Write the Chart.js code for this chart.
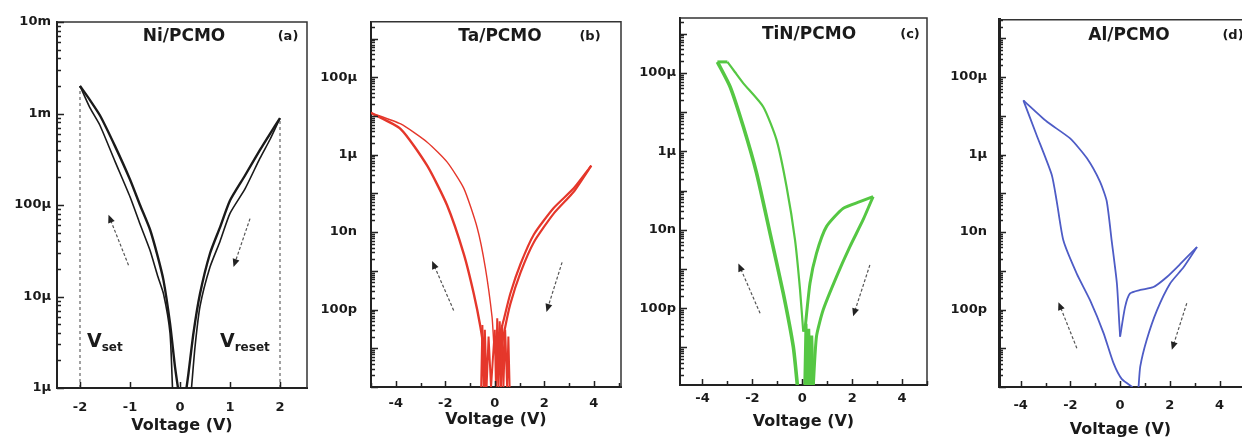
<!DOCTYPE html>
<html>
<head>
<meta charset="utf-8">
<script src="https://cdn.jsdelivr.net/npm/chart.js@4.4.1/dist/chart.umd.min.js"></script>
<style>
  html, body { margin: 0; padding: 0; background: #fff; }
  #wrap { position: relative; width: 1242px; height: 439px; overflow: hidden; }
  canvas { position: absolute; top: 0; }
</style>
</head>
<body>
<div id="wrap">
  <canvas id="cA" width="320" height="439" style="left:0px"></canvas>
  <canvas id="cB" width="320" height="439" style="left:310px"></canvas>
  <canvas id="cC" width="320" height="439" style="left:620px"></canvas>
  <canvas id="cD" width="312" height="439" style="left:930px"></canvas>
</div>
<script>
// ---- data: [voltage (V), |current| (A)] ----

// (a) Ni/PCMO
const niSetOuter = [[-2.0, 2.0e-3], [-1.8, 1.4e-3], [-1.6, 9.5e-4], [-1.3, 4.4e-4], [-1.0, 1.9e-4], [-0.8, 1.0e-4],
  [-0.6, 5.4e-5], [-0.45, 2.8e-5], [-0.33, 1.5e-5], [-0.2, 5.1e-6], [-0.1, 1.7e-6], [-0.04, 1.0e-6]];
const niSetInner = [[-2.0, 2.0e-3], [-1.8, 1.15e-3], [-1.6, 7.4e-4], [-1.3, 3.0e-4], [-1.0, 1.23e-4], [-0.8, 6.2e-5],
  [-0.6, 3.2e-5], [-0.45, 1.7e-5], [-0.33, 1.07e-5], [-0.2, 4.0e-6], [-0.15, 1.0e-6]];
const niResetOuter = [[2.0, 8.9e-4], [1.8, 6.0e-4], [1.6, 4.0e-4], [1.3, 2.1e-4], [1.0, 1.12e-4], [0.8, 5.7e-5],
  [0.6, 2.95e-5], [0.4, 1.07e-5], [0.27, 4.0e-6], [0.17, 1.45e-6], [0.13, 1.0e-6]];
const niResetInner = [[2.0, 8.9e-4], [1.8, 5.2e-4], [1.6, 3.25e-4], [1.3, 1.5e-4], [1.0, 8.1e-5], [0.8, 4.0e-5],
  [0.6, 2.1e-5], [0.4, 7.8e-6], [0.3, 2.8e-6], [0.23, 1.0e-6]];
const niVset = [[-2, 1e-6], [-2, 2.0e-3]];
const niVreset = [[2, 1e-6], [2, 8.9e-4]];

// (b) Ta/PCMO
const taLeftUpper = [[-5.0, 1.2e-5], [-3.8, 6.2e-6], [-2.73, 2.1e-6], [-1.93, 6.5e-7], [-1.25, 1.35e-7],
  [-0.71, 1.3e-8], [-0.38, 1.2e-9], [-0.11, 6.5e-11], [-0.04, 1.3e-11]];
const taLeftLower = [[-5.0, 1.2e-5], [-3.8, 4.6e-6], [-2.73, 5.2e-7], [-1.93, 5.0e-8], [-1.25, 2.7e-9],
  [-0.85, 2.6e-10], [-0.58, 3.6e-11], [-0.45, 9e-12], [-0.38, 1e-12]];
const taRightUpper = [[3.9, 5.2e-7], [3.19, 1.35e-7], [2.38, 4.2e-8], [1.58, 8.7e-9], [1.04, 1.5e-9],
  [0.63, 2.6e-10], [0.36, 5.4e-11], [0.23, 2.5e-11], [0.05, 1e-12]];
const taRightLower = [[3.9, 5.2e-7], [3.19, 1.1e-7], [2.38, 3.0e-8], [1.58, 5.5e-9], [1.04, 9e-10],
  [0.63, 1.4e-10], [0.4, 3e-11], [0.3, 1.2e-11], [0.25, 1e-12]];
const taNoise = [[-0.55, 1e-12], [-0.5, 4e-11], [-0.45, 1e-12], [-0.4, 3e-11], [-0.33, 1e-12], [-0.25, 2e-11],
  [-0.15, 1e-12], [0.0, 3e-11], [0.05, 1e-12], [0.1, 6e-11], [0.15, 1e-12], [0.2, 5e-11], [0.25, 1e-12],
  [0.3, 4e-11], [0.35, 1e-12], [0.42, 3e-11], [0.5, 1e-12], [0.55, 2e-11], [0.6, 1e-12]];

// (c) TiN/PCMO
const tinCompliance = [[-3.4, 1.9e-4], [-3.0, 1.9e-4]];
const tinLeftOuter = [[-3.0, 1.9e-4], [-2.7, 1.05e-4], [-2.36, 5.4e-5], [-1.56, 1.35e-5], [-1.03, 1.95e-6],
  [-0.63, 1.26e-7], [-0.29, 5.5e-9], [-0.09, 3.0e-10], [0.04, 2.5e-11]];
const tinLeftInner = [[-3.4, 1.9e-4], [-2.89, 4.4e-5], [-2.36, 4.2e-6], [-1.83, 2.75e-7], [-1.29, 8.1e-9],
  [-0.76, 2.4e-10], [-0.36, 1.05e-11], [-0.19, 1.0e-12]];
const tinRightUpper = [[0.1, 2.5e-11], [0.31, 4.3e-10], [0.57, 2.5e-9], [0.97, 1.2e-8], [1.64, 3.5e-8],
  [2.31, 5.2e-8], [2.84, 7e-8]];
const tinRightLower = [[2.84, 7e-8], [2.44, 1.8e-8], [1.91, 3.7e-9], [1.37, 6.3e-10], [0.84, 9.1e-11],
  [0.57, 1.9e-11], [0.44, 1e-12]];
const tinNoise = [[0.1, 1e-12], [0.15, 4e-11], [0.2, 1e-12], [0.26, 3e-11], [0.32, 1e-12], [0.38, 2e-11],
  [0.44, 1e-12]];

// (d) Al/PCMO
const alLeftUpper = [[-3.89, 2.5e-5], [-2.95, 7.1e-6], [-2.01, 2.6e-6], [-1.34, 8.1e-7], [-0.81, 2.0e-7],
  [-0.54, 6.3e-8], [-0.34, 6.0e-9], [-0.13, 4.7e-10], [-0.03, 4e-11], [0.0, 2e-11]];
const alLeftLower = [[-3.89, 2.5e-5], [-3.36, 3.2e-6], [-2.75, 3.0e-7], [-2.55, 6.3e-8], [-2.28, 6.0e-9],
  [-1.74, 8.3e-10], [-1.21, 1.74e-10], [-0.67, 2.5e-11], [-0.27, 4.2e-12], [0.07, 1.6e-12], [0.5, 1e-12]];
const alRightUpper = [[0.0, 2e-11], [0.2, 1.17e-10], [0.4, 2.6e-10], [0.81, 3.2e-10], [1.34, 3.8e-10],
  [1.88, 6.9e-10], [2.42, 1.5e-9], [3.09, 4.1e-9]];
const alRightLower = [[3.09, 4.1e-9], [2.55, 1.23e-9], [2.01, 4.7e-10], [1.48, 9.5e-11], [1.07, 1.66e-11],
  [0.81, 3.4e-12], [0.74, 1e-12]];

// tick values and labels
const niYTicks = [1e-2, 1e-3, 1e-4, 1e-5, 1e-6];
const niYLabels = ['10m', '1m', '100µ', '10µ', '1µ'];
const pcmoYTicks = [1e-4, 1e-6, 1e-8, 1e-10];
const pcmoYLabels = ['100µ', '1µ', '10n', '100p'];
const niXTicks = [-2, -1, 0, 1, 2];
const niXLabels = [-2, -1, 0, 1, 2];
const pcmoXTicks = [-5, -4, -3, -2, -1, 0, 1, 2, 3, 4, 5];
const pcmoXLabels = [-4, -2, 0, 2, 4];

// direction arrows [V0, I0, V1(head), I1(head)]
const niArrows = [[-1.03, 2.2e-5, -1.43, 7.8e-5], [1.40, 7.1e-5, 1.07, 2.1e-5]];
const taArrows = [[-1.66, 9.5e-11, -2.53, 1.8e-9], [2.72, 1.66e-9, 2.09, 8.7e-11]];
const tinArrows = [[-1.69, 7.4e-11, -2.56, 1.38e-9], [2.71, 1.26e-9, 2.04, 6.2e-11]];
const alArrows = [[-1.74, 1.0e-11, -2.48, 1.55e-10], [2.68, 1.45e-10, 2.08, 9.1e-12]];

Chart.defaults.font.family = 'DejaVu Sans';
Chart.defaults.font.weight = 'bold';
Chart.defaults.color = '#1a1a1a';

const FONT = 'DejaVu Sans';

function near(a, b) { return Math.abs(Math.log10(Math.abs(a)) - Math.log10(Math.abs(b))) < 1e-6; }

function logTicks(min, max) {
  const out = [];
  for (let e = Math.floor(Math.log10(min)); e <= Math.ceil(Math.log10(max)); e++) {
    for (let k = 1; k <= 9; k++) {
      const v = k * Math.pow(10, e);
      if (v >= min * 0.999 && v <= max * 1.001) out.push({ value: v, major: k === 1 });
    }
  }
  return out;
}

// box, inward ticks, arrows and text notes
const frame = {
  id: 'frame',
  afterDraw(chart, args, o) {
    const { ctx, chartArea: a, scales } = chart;
    const x = scales.x, y = scales.y;
    ctx.save();
    ctx.strokeStyle = '#333';
    ctx.lineWidth = 1.5;
    ctx.beginPath();
    ctx.moveTo(a.left, a.top);
    ctx.lineTo(o.rightEdge ? a.right : chart.width, a.top);
    if (o.rightEdge) ctx.lineTo(a.right, a.bottom);
    ctx.stroke();

    ctx.strokeStyle = '#222';
    ctx.lineWidth = 1.5;
    ctx.beginPath();
    y.ticks.forEach(t => {
      const py = Math.round(y.getPixelForValue(t.value)) + 0.5;
      ctx.moveTo(a.left, py);
      ctx.lineTo(a.left + (t.major ? 7 : 4), py);
    });
    x.ticks.forEach(t => {
      const px = Math.round(x.getPixelForValue(t.value)) + 0.5;
      ctx.moveTo(px, a.bottom);
      ctx.lineTo(px, a.bottom - (t.major ? 6 : 4));
    });
    ctx.stroke();

    // arrows
    ctx.strokeStyle = '#555';
    ctx.fillStyle = '#222';
    ctx.lineWidth = 1.2;
    o.arrows.forEach(([v0, i0, v1, i1]) => {
      const x0 = x.getPixelForValue(v0), y0 = y.getPixelForValue(i0);
      const x1 = x.getPixelForValue(v1), y1 = y.getPixelForValue(i1);
      const ang = Math.atan2(y1 - y0, x1 - x0);
      ctx.setLineDash([3, 2]);
      ctx.beginPath();
      ctx.moveTo(x0, y0);
      ctx.lineTo(x1 - 5 * Math.cos(ang), y1 - 5 * Math.sin(ang));
      ctx.stroke();
      ctx.setLineDash([]);
      ctx.beginPath();
      ctx.moveTo(x1, y1);
      ctx.lineTo(x1 - 8 * Math.cos(ang) + 3.5 * Math.sin(ang), y1 - 8 * Math.sin(ang) - 3.5 * Math.cos(ang));
      ctx.lineTo(x1 - 8 * Math.cos(ang) - 3.5 * Math.sin(ang), y1 - 8 * Math.sin(ang) + 3.5 * Math.cos(ang));
      ctx.closePath();
      ctx.fill();
    });

    // panel title and letter
    ctx.fillStyle = '#1a1a1a';
    ctx.textAlign = 'center';
    ctx.textBaseline = 'middle';
    ctx.font = 'bold 17px ' + FONT;
    ctx.fillText(o.title, a.left + o.titleDx, a.top + o.titleDy);
    ctx.font = 'bold 13px ' + FONT;
    ctx.fillText(o.letter, a.left + o.letterDx, a.top + o.titleDy);

    // V_set / V_reset
    ctx.textAlign = 'left';
    ctx.textBaseline = 'alphabetic';
    (o.notes || []).forEach(n => {
      const px = x.getPixelForValue(n.v), py = y.getPixelForValue(n.i);
      ctx.font = 'bold 19px ' + FONT;
      ctx.fillText(n.main, px, py);
      const w = ctx.measureText(n.main).width;
      ctx.font = 'bold 12px ' + FONT;
      ctx.fillText(n.sub, px + w, py + 4);
    });
    ctx.restore();
  }
};
Chart.register(frame);

function line(pts, color, w, extra) {
  return Object.assign({
    data: pts.map(([v, i]) => ({ x: v, y: i })),
    showLine: true, pointRadius: 0, borderColor: color, borderWidth: w, tension: 0.2
  }, extra || {});
}

function panel(id, c) {
  return new Chart(document.getElementById(id), {
    type: 'scatter',
    data: { datasets: c.datasets },
    options: {
      responsive: false,
      animation: false,
      events: [],
      layout: { padding: { top: c.top, right: c.right, left: 0, bottom: 0 } },
      plugins: {
        legend: { display: false },
        tooltip: { enabled: false },
        frame: c.frame
      },
      scales: {
        x: {
          type: 'linear', min: c.xMin, max: c.xMax,
          grid: { display: false, drawTicks: false },
          border: { display: true, color: '#222', width: 2 },
          afterBuildTicks: s => {
            s.ticks = c.xTicks.filter(v => v >= c.xMin && v <= c.xMax)
              .map(v => ({ value: v, major: c.xLabels.includes(v) }));
          },
          afterFit: s => { s.height = c.xAxisH; },
          ticks: {
            autoSkip: false, maxRotation: 0, padding: c.xPad,
            font: { size: 13, weight: 'bold' },
            callback: v => c.xLabels.includes(v) ? String(v) : ''
          },
          title: {
            display: true, text: 'Voltage (V)',
            font: { size: 16, weight: 'bold' },
            padding: { top: 0, bottom: c.titlePadB }
          }
        },
        y: {
          type: 'logarithmic', min: c.yMin, max: c.yMax,
          grid: { display: false, drawTicks: false },
          border: { display: true, color: '#222', width: c.yBorder || 2 },
          afterBuildTicks: s => { s.ticks = logTicks(c.yMin, c.yMax); },
          afterFit: s => { s.width = c.yAxisW; },
          ticks: {
            autoSkip: false, padding: c.yPad,
            font: { size: 13, weight: 'bold' },
            callback: v => {
              const k = c.yTicks.findIndex(t => near(t, v));
              return k >= 0 ? c.yLabels[k] : '';
            }
          }
        }
      }
    }
  });
}

const black = '#1a1a1a', red = '#e5372b', green = '#55c743', blue = '#4e5cc6';

panel('cA', {
  top: 22, right: 13, yAxisW: 57, xAxisH: 51, xPad: 12, yPad: 6, titlePadB: 4,
  xMin: -2.46, xMax: 2.54, yMin: 1e-6, yMax: 1e-2,
  xTicks: niXTicks, xLabels: niXLabels, yTicks: niYTicks, yLabels: niYLabels,
  datasets: [
    line(niSetOuter, black, 2.4), line(niSetInner, black, 1.6),
    line(niResetOuter, black, 2.4), line(niResetInner, black, 1.6),
    line(niVset, '#444', 1, { borderDash: [3, 3], tension: 0 }),
    line(niVreset, '#444', 1, { borderDash: [3, 3], tension: 0 })
  ],
  frame: {
    rightEdge: true, title: 'Ni/PCMO', letter: '(a)', titleDx: 127, titleDy: 15, letterDx: 231,
    arrows: niArrows,
    notes: [{ v: -1.86, i: 2.8e-6, main: 'V', sub: 'set' }, { v: 0.8, i: 2.8e-6, main: 'V', sub: 'reset' }]
  }
});

panel('cB', {
  top: 18, right: 9, yAxisW: 61, xAxisH: 52, xPad: 9, yPad: 14, titlePadB: 10,
  xMin: -5, xMax: 5.1, yMin: 1e-12, yMax: 2.7e-3,
  xTicks: pcmoXTicks, xLabels: pcmoXLabels, yTicks: pcmoYTicks, yLabels: pcmoYLabels,
  datasets: [
    line(taLeftUpper, red, 1.4), line(taLeftLower, red, 2.4),
    line(taRightUpper, red, 2.2), line(taRightLower, red, 2.2),
    line(taNoise, red, 2, { tension: 0 })
  ],
  frame: { rightEdge: true, title: 'Ta/PCMO', letter: '(b)', titleDx: 129, titleDy: 15, letterDx: 219, arrows: taArrows }
});

panel('cC', {
  top: 18, right: 13, yAxisW: 60, xAxisH: 54, xPad: 6, yPad: 4, titlePadB: 8,
  xMin: -4.9, xMax: 5, yMin: 1.1e-12, yMax: 2.5e-3,
  xTicks: pcmoXTicks, xLabels: pcmoXLabels, yTicks: pcmoYTicks, yLabels: pcmoYLabels,
  datasets: [
    line(tinCompliance, green, 3, { tension: 0 }),
    line(tinLeftOuter, green, 2.2), line(tinLeftInner, green, 3.6),
    line(tinRightUpper, green, 3), line(tinRightLower, green, 3),
    line(tinNoise, green, 3, { tension: 0 })
  ],
  frame: { rightEdge: true, title: 'TiN/PCMO', letter: '(c)', titleDx: 129, titleDy: 17, letterDx: 230, arrows: tinArrows }
});

panel('cD', {
  top: 17, right: 0, yAxisW: 69, xAxisH: 52, xPad: 11, yPad: 12, titlePadB: 0,
  xMin: -4.87, xMax: 4.9, yMin: 1e-12, yMax: 3e-3,
  xTicks: pcmoXTicks, xLabels: pcmoXLabels, yTicks: pcmoYTicks, yLabels: pcmoYLabels,
  yBorder: 3,
  datasets: [
    line(alLeftUpper, blue, 1.8), line(alLeftLower, blue, 1.8),
    line(alRightUpper, blue, 1.8), line(alRightLower, blue, 1.8)
  ],
  frame: { rightEdge: false, title: 'Al/PCMO', letter: '(d)', titleDx: 130, titleDy: 16, letterDx: 234, arrows: alArrows }
});
</script>
</body>
</html>
